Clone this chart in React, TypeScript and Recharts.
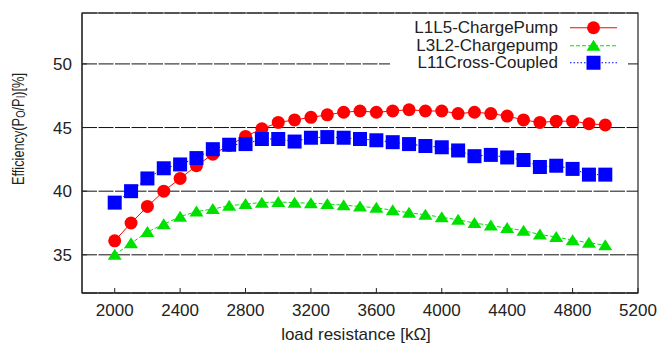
import { LineChart, Line, XAxis, YAxis, CartesianGrid, Legend, Label, ReferenceArea } from 'recharts';

const resistance = [
  2000, 2100, 2200, 2300, 2400, 2500, 2600, 2700, 2800, 2900, 3000,
  3100, 3200, 3300, 3400, 3500, 3600, 3700, 3800, 3900, 4000,
  4100, 4200, 4300, 4400, 4500, 4600, 4700, 4800, 4900, 5000,
];
const chargePumpL1L5 = [
  36.1, 37.5, 38.8, 40.0, 41.0, 42.0, 42.9, 43.6, 44.3, 44.9, 45.4,
  45.6, 45.8, 46.0, 46.2, 46.3, 46.2, 46.3, 46.4, 46.3, 46.3,
  46.1, 46.2, 46.1, 45.9, 45.6, 45.4, 45.5, 45.5, 45.3, 45.2,
];
const chargePumpL3L2 = [
  35.0, 35.9, 36.8, 37.4, 38.0, 38.4, 38.6, 38.85, 39.0, 39.1, 39.15,
  39.1, 39.05, 39.0, 38.9, 38.8, 38.7, 38.5, 38.3, 38.15, 37.95,
  37.75, 37.5, 37.3, 37.1, 36.9, 36.6, 36.4, 36.15, 35.95, 35.75,
];
const crossCoupledL11 = [
  39.1, 40.0, 41.0, 41.8, 42.1, 42.6, 43.3, 43.65, 43.7, 44.1, 44.1,
  43.9, 44.2, 44.25, 44.2, 44.1, 44.0, 43.85, 43.7, 43.55, 43.45,
  43.2, 42.75, 42.85, 42.65, 42.45, 41.9, 42.0, 41.75, 41.3, 41.3,
];
const xTicks = [2000, 2400, 2800, 3200, 3600, 4000, 4400, 4800, 5200];
const yTicks = [35, 40, 45, 50];

const data = resistance.map((r, i) => ({
  r,
  l1l5: chargePumpL1L5[i],
  l3l2: chargePumpL3L2[i],
  l11: crossCoupledL11[i],
}));

const FONT = '"Liberation Sans", Arial, Helvetica, sans-serif';

const SERIES = [
  { key: 'l1l5', name: 'L1L5-ChargePump', color: '#ff0000', shape: 'circle', dash: undefined },
  { key: 'l3l2', name: 'L3L2-Chargepump', color: '#00e000', shape: 'triangle', dash: '4 2' },
  { key: 'l11', name: 'L11Cross-Coupled', color: '#0000ff', shape: 'square', dash: '1.5 2' },
];

function Marker({ shape, cx, cy, color }: { shape: string; cx: number; cy: number; color: string }) {
  if (shape === 'circle') return <circle cx={cx} cy={cy} r={6.5} fill={color} />;
  if (shape === 'triangle')
    return <path d={`M${cx},${cy - 6} L${cx + 7},${cy + 5} L${cx - 7},${cy + 5} Z`} fill={color} />;
  return <rect x={cx - 7} y={cy - 7} width={14} height={14} fill={color} />;
}

function LegendBox() {
  return (
    <div style={{ background: '#fff', fontFamily: FONT, fontSize: 17, color: '#222' }}>
      {SERIES.map((s) => (
        <div key={s.key} style={{ display: 'flex', alignItems: 'center', height: 17.5, overflow: 'hidden' }}>
          <span style={{ width: 168, textAlign: 'right', lineHeight: '17.5px', whiteSpace: 'nowrap' }}>{s.name}</span>
          <svg width={70} height={17.5} style={{ display: 'block' }}>
            <line x1={12} x2={59} y1={8.75} y2={8.75} stroke={s.color} strokeWidth={1} strokeDasharray={s.dash} />
            <Marker shape={s.shape} cx={35.5} cy={8.75} color={s.color} />
          </svg>
        </div>
      ))}
    </div>
  );
}

function XTitle(props: any) {
  const vb = props.viewBox || { x: 82, width: 556 };
  return (
    <text x={vb.x + vb.width / 2 - 4} y={340} textAnchor="middle" fontSize={17} fill="#222" fontFamily={FONT}>
      load resistance [kΩ]
    </text>
  );
}

function YTitle() {
  return (
    <text
      x={18}
      y={129}
      transform="rotate(-90 18 129)"
      textAnchor="middle"
      dominantBaseline="central"
      fontSize={16}
      fill="#222"
      fontFamily={FONT}
      textLength={112}
      lengthAdjust="spacingAndGlyphs"
    >
      Efficiency(P<tspan dy={3} fontSize={12}>O</tspan>
      <tspan dy={-3}>/P</tspan>
      <tspan dy={3} fontSize={12}>I</tspan>
      <tspan dy={-3}>)[%]</tspan>
    </text>
  );
}

export default function App() {
  return (
    <div style={{ position: 'absolute', left: 0, top: 0, width: 659, height: 343, background: '#fff' }}>
      <LineChart width={659} height={343} data={data} margin={{ top: 12, right: 20, bottom: 0, left: 0 }}>
        <CartesianGrid vertical={false} stroke="#111" strokeDasharray="15 1.5" />
        <ReferenceArea x1={1800} x2={5200} y1={32} y2={54} fill="none" stroke="#222" strokeWidth={1.2} ifOverflow="visible" />
        <XAxis
          dataKey="r"
          type="number"
          domain={[1800, 5200]}
          ticks={xTicks}
          interval={0}
          allowDataOverflow
          height={50}
          tickSize={-5}
          tickMargin={16}
          stroke="#222"
          tick={{ fill: '#222', fontSize: 17, fontFamily: FONT }}
        >
          <Label content={XTitle} />
        </XAxis>
        <XAxis
          xAxisId="top"
          orientation="top"
          dataKey="r"
          type="number"
          domain={[1800, 5200]}
          ticks={xTicks}
          interval={0}
          allowDataOverflow
          height={1}
          tickSize={-5}
          tick={false}
          axisLine={false}
          stroke="#222"
        />
        <YAxis
          type="number"
          domain={[32, 54]}
          ticks={yTicks}
          interval={0}
          allowDataOverflow
          width={82}
          tickSize={-5}
          tickMargin={15}
          stroke="#222"
          tick={{ fill: '#222', fontSize: 17, fontFamily: FONT }}
        >
          <Label content={YTitle} />
        </YAxis>
        <YAxis
          yAxisId="right"
          orientation="right"
          type="number"
          domain={[32, 54]}
          ticks={yTicks}
          interval={0}
          allowDataOverflow
          width={1}
          tickSize={-5}
          tick={false}
          axisLine={false}
          stroke="#222"
        />
        <Legend
          layout="vertical"
          align="center"
          verticalAlign="middle"
          content={() => <LegendBox />}
          wrapperStyle={{ position: 'absolute', left: 390, top: 19, width: 238, height: 52.5 }}
        />
        {SERIES.map((s) => (
          <Line
            key={s.key}
            dataKey={s.key}
            name={s.name}
            type="linear"
            stroke={s.color}
            strokeWidth={1}
            strokeDasharray={s.dash}
            isAnimationActive={false}
            dot={(p: any) => <Marker key={`${s.key}-${p.index}`} shape={s.shape} cx={p.cx} cy={p.cy} color={s.color} />}
            activeDot={false}
          />
        ))}
      </LineChart>
    </div>
  );
}
